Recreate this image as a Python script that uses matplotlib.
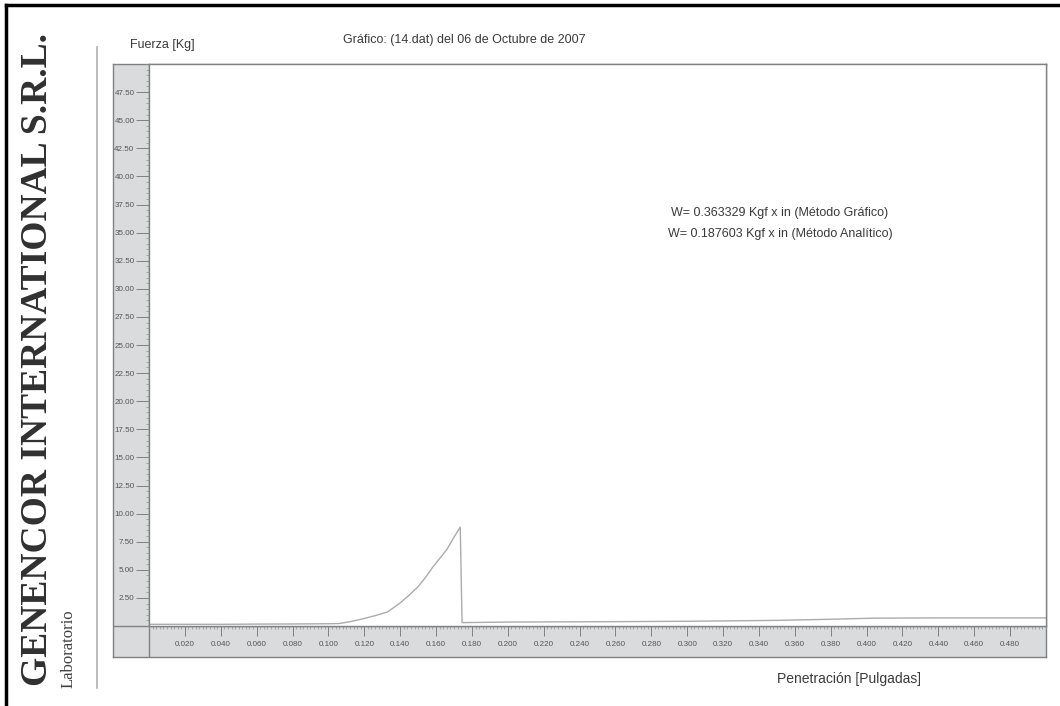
#!/usr/bin/env python3
"""Scanned lab report chart: fuerza vs penetracion (14.dat)."""
import matplotlib
matplotlib.use("Agg")
import matplotlib.pyplot as plt
from matplotlib.lines import Line2D
from matplotlib.ticker import FixedLocator, MultipleLocator, FormatStrFormatter

# penetracion [pulgadas] vs fuerza [Kg]
penetracion = [0.000, 0.020, 0.040, 0.060, 0.080, 0.100, 0.106, 0.112,
               0.119, 0.126, 0.133, 0.140, 0.145, 0.150, 0.154, 0.158,
               0.162, 0.166, 0.170, 0.1735, 0.1745, 0.200, 0.250,
               0.300, 0.350, 0.380, 0.405, 0.440, 0.480, 0.500]
fuerza = [0.15, 0.15, 0.15, 0.17, 0.18, 0.20, 0.22, 0.38,
          0.63, 0.92, 1.25, 2.05, 2.75, 3.50, 4.30, 5.20,
          6.00, 6.80, 7.90, 8.80, 0.30, 0.35, 0.38,
          0.42, 0.50, 0.60, 0.70, 0.72, 0.72, 0.72]

y_ticks = [2.5, 5.0, 7.5, 10.0, 12.5, 15.0, 17.5, 20.0, 22.5, 25.0,
           27.5, 30.0, 32.5, 35.0, 37.5, 40.0, 42.5, 45.0, 47.5]
x_ticks = [0.02, 0.04, 0.06, 0.08, 0.10, 0.12, 0.14, 0.16, 0.18, 0.20,
           0.22, 0.24, 0.26, 0.28, 0.30, 0.32, 0.34, 0.36, 0.38, 0.40,
           0.42, 0.44, 0.46, 0.48]

title = "Gráfico: (14.dat) del 06 de Octubre de 2007"
w_lines = ["W= 0.363329 Kgf x in (Método Gráfico)",
           "W= 0.187603 Kgf x in (Método Analítico)"]

W, H = 1060, 706
plt.rcParams["font.family"] = ["Liberation Sans", "DejaVu Sans"]


def fx(px):
    return px / W


def fy(py):
    return 1 - py / H


fig = plt.figure(figsize=(W / 100, H / 100), dpi=100)

# gray ruler frame behind the plot
L, R, T, B = 113, 1046, 64, 657
AX_L, AX_B = 149, 626
frame = fig.add_axes([fx(L), fy(B), fx(R - L), (B - T) / H])
frame.set_facecolor("#d9dbdd")
frame.set_xticks([])
frame.set_yticks([])
for s in frame.spines.values():
    s.set_color("#808080")
    s.set_linewidth(1.0)
frame.set_xlim(0, 1)
frame.set_ylim(0, 1)
frame.axvline((AX_L - L) / (R - L), color="#808080", lw=1.0)
frame.axhline((B - AX_B) / (B - T), color="#808080", lw=1.0)

ax = fig.add_axes([fx(AX_L), fy(AX_B), fx(R - AX_L), (AX_B - T) / H])
ax.set_facecolor("white")
ax.plot(penetracion, fuerza, color="#ababab", lw=1.0)
ax.set_xlim(0, 0.5)
ax.set_ylim(0, 50)
for s in ax.spines.values():
    s.set_color("#808080")
    s.set_linewidth(1.0)

ax.yaxis.set_major_locator(FixedLocator(y_ticks))
ax.yaxis.set_major_formatter(FormatStrFormatter("%.2f"))
ax.yaxis.set_minor_locator(MultipleLocator(0.5))
ax.xaxis.set_major_locator(FixedLocator(x_ticks))
ax.xaxis.set_major_formatter(FormatStrFormatter("%.3f"))
ax.xaxis.set_minor_locator(MultipleLocator(0.002))
ax.tick_params(axis="y", which="major", length=9.5, width=0.7, pad=1.0,
               color="#808080", labelsize=5.8, labelcolor="#555555")
ax.tick_params(axis="x", which="major", length=7, width=0.7, pad=4,
               color="#808080", labelsize=5.8, labelcolor="#555555")
ax.tick_params(which="minor", length=2.5, width=0.5, color="#909090")

# texts
txt = "#3a3a3a"
fig.text(fx(130), fy(45), "Fuerza [Kg]", ha="left", va="center",
         fontsize=9, color=txt)
fig.text(fx(464), fy(40), title, ha="center", va="center", fontsize=9, color=txt)
fig.text(fx(780), fy(213), w_lines[0], ha="center", va="center",
         fontsize=9, color=txt)
fig.text(fx(780), fy(234), w_lines[1], ha="center", va="center",
         fontsize=9, color=txt)
fig.text(fx(849), fy(679), "Penetración [Pulgadas]", ha="center", va="center",
         fontsize=10, color=txt)

fig.text(fx(38), fy(360), "GENENCOR INTERNATIONAL S.R.L.", rotation=90,
         ha="center", va="center", fontsize=27, fontweight="bold",
         family="Liberation Serif", color="#303030")
fig.text(fx(69), fy(649), "Laboratorio", rotation=90, ha="center", va="center",
         fontsize=12, family="Liberation Serif", color="#404040")

# separator and scan border
fig.add_artist(Line2D([fx(97), fx(97)], [fy(47), fy(688)], color="#b0b0b0", lw=1.2))
fig.add_artist(Line2D([fx(6), fx(6)], [fy(5), 0], color="black", lw=2.5))
fig.add_artist(Line2D([fx(6), 1], [fy(5), fy(5)], color="black", lw=2.5))

fig.savefig("out.png", dpi=100)
